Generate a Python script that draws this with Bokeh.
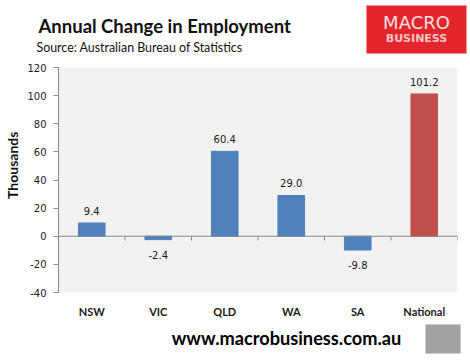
import math
from bokeh.plotting import figure
from bokeh.layouts import column, row
from bokeh.models import (ColumnDataSource, FactorRange, Range1d, Span, Label, FixedTicker,
                          CDSView, BooleanFilter, CustomJSTickFormatter, BoxAnnotation)
from bokeh.transform import dodge
from bokeh.core.properties import value
from bokeh.embed import file_html
from bokeh.resources import INLINE

# ---- data ----
regions = ["NSW", "VIC", "QLD", "WA", "SA", "National"]
change = [9.4, -2.4, 60.4, 29.0, -9.8, 101.2]
bar_colors = ["#4f81bd", "#4f81bd", "#4f81bd", "#4f81bd", "#4f81bd", "#c0504d"]
y_ticks = [-40, -20, 0, 20, 40, 60, 80, 100, 120]
title_text = "Annual Change in Employment"
subtitle_text = "Source: Australian Bureau of Statistics"
y_label = "Thousands"
url_text = "www.macrobusiness.com.au"
logo_top = "MACRO"
logo_bottom = "BUSINESS"

TOTAL_W = 470
HEAD_H, MAIN_H, FOOT_H = 60, 260, 40
STRIP_W = 24
MAIN_W = TOTAL_W - STRIP_W


def blank(w, h):
    f = figure(width=w, height=h, output_backend="svg", toolbar_location=None,
               x_range=Range1d(0, w), y_range=Range1d(h, 0),
               x_axis_location=None, y_axis_location=None,
               min_border=0, min_border_left=0, min_border_right=0,
               min_border_top=0, min_border_bottom=0)
    f.xgrid.visible = False
    f.ygrid.visible = False
    f.outline_line_color = None
    f.background_fill_color = "white"
    f.border_fill_color = "white"
    return f

# ---- header ----
head = blank(TOTAL_W, HEAD_H)
head.add_layout(Label(x=38, y=25, text=title_text, text_font="Lato", text_font_style="bold",
                      text_font_size="18.5px", text_color="#111111", text_baseline="alphabetic"))
head.add_layout(Label(x=36, y=47, text=subtitle_text, text_font="Lato", text_font_size="12.4px",
                      text_color="#111111", text_baseline="alphabetic"))
head.add_layout(BoxAnnotation(left=366, right=466, top=5, bottom=53, fill_color="#e2262b",
                              fill_alpha=1, line_color=None))
head.add_layout(Label(x=416, y=22, text=logo_top, text_font="DejaVu Sans", text_font_size="18px",
                      text_color="#fbe1e1", text_align="center", text_baseline="middle"))
head.add_layout(Label(x=416, y=38, text=logo_bottom, text_font="DejaVu Sans",
                      text_font_style="bold", text_font_size="11px", text_color="#f7c6c6",
                      text_align="center", text_baseline="middle"))

# ---- y label strip ----
strip = blank(STRIP_W, MAIN_H)
strip.add_layout(Label(x=12, y=113, text=y_label, text_font="Lato", text_font_style="bold",
                       text_font_size="14px", text_color="#111111", angle=math.pi / 2,
                       text_align="center", text_baseline="middle"))

# ---- main chart ----
src = ColumnDataSource(dict(
    region=regions,
    change=change,
    color=bar_colors,
    label=[f"{v:.1f}" for v in change],
    base=[0] * len(regions),
    tick_end=[-3] * len(regions),
))
pos_view = CDSView(filter=BooleanFilter([v >= 0 for v in change]))
neg_view = CDSView(filter=BooleanFilter([v < 0 for v in change]))

p = figure(width=MAIN_W, height=MAIN_H, output_backend="svg", toolbar_location=None,
           x_range=FactorRange(factors=regions, range_padding=0),
           y_range=Range1d(-40, 120),
           min_border_left=34, min_border_top=7, min_border_right=13,
           min_border_bottom=26)
p.background_fill_color = "#f2f2f2"
p.border_fill_color = "white"
p.outline_line_color = None
p.xgrid.grid_line_color = None
p.ygrid.grid_line_color = None

p.yaxis.ticker = FixedTicker(ticks=y_ticks)
p.yaxis.formatter = CustomJSTickFormatter(code="return tick.toFixed(0)")
p.yaxis.axis_line_color = "#868686"
p.yaxis.major_tick_line_color = "#868686"
p.yaxis.major_tick_out = 5
p.yaxis.major_tick_in = 0
p.yaxis.minor_tick_line_color = None
p.yaxis.major_label_text_font = "DejaVu Sans"
p.yaxis.major_label_text_font_size = "10px"
p.yaxis.major_label_text_color = "#1a1a1a"
p.yaxis.major_label_standoff = 7

p.xaxis.axis_line_color = None
p.xaxis.major_tick_line_color = None
p.xaxis.major_tick_out = 0
p.xaxis.major_tick_in = 0
p.xaxis.minor_tick_line_color = None
p.xaxis.major_label_text_font = "Lato"
p.xaxis.major_label_text_font_style = "bold"
p.xaxis.major_label_text_font_size = "11px"
p.xaxis.major_label_text_color = "#1a1a1a"
p.xaxis.major_label_standoff = 12

p.vbar(x="region", top="change", bottom=0, width=0.4, color="color", source=src)

p.add_layout(Span(location=0, dimension="width", line_color="#868686", line_width=1))
p.segment(x0=dodge("region", 0.5, range=p.x_range), y0="base",
          x1=dodge("region", 0.5, range=p.x_range), y1="tick_end",
          line_color="#868686", line_width=1, source=src)

p.text(x="region", y="change", text="label", source=src, view=pos_view, text_align="center",
       text_baseline="middle", y_offset=-12, text_font=value("DejaVu Sans"),
       text_font_size="10px", text_color="#1a1a1a")
p.text(x="region", y="change", text="label", source=src, view=neg_view, text_align="center",
       text_baseline="middle", y_offset=15, text_font=value("DejaVu Sans"),
       text_font_size="10px", text_color="#1a1a1a")

# ---- footer ----
foot = blank(TOTAL_W, FOOT_H)
foot.add_layout(Label(x=286, y=17, text=url_text, text_font="Lato", text_font_style="bold",
                      text_font_size="18.2px", text_color="#000000", text_align="center",
                      text_baseline="middle"))
foot.add_layout(BoxAnnotation(left=425, right=460, top=4, bottom=33, fill_color="#a3a3a3",
                              fill_alpha=1, line_color="#c4c4c4", line_width=1))

layout = column(head, row(strip, p, spacing=0), foot, spacing=0)

open("out.html", "w").write(file_html(layout, INLINE))
